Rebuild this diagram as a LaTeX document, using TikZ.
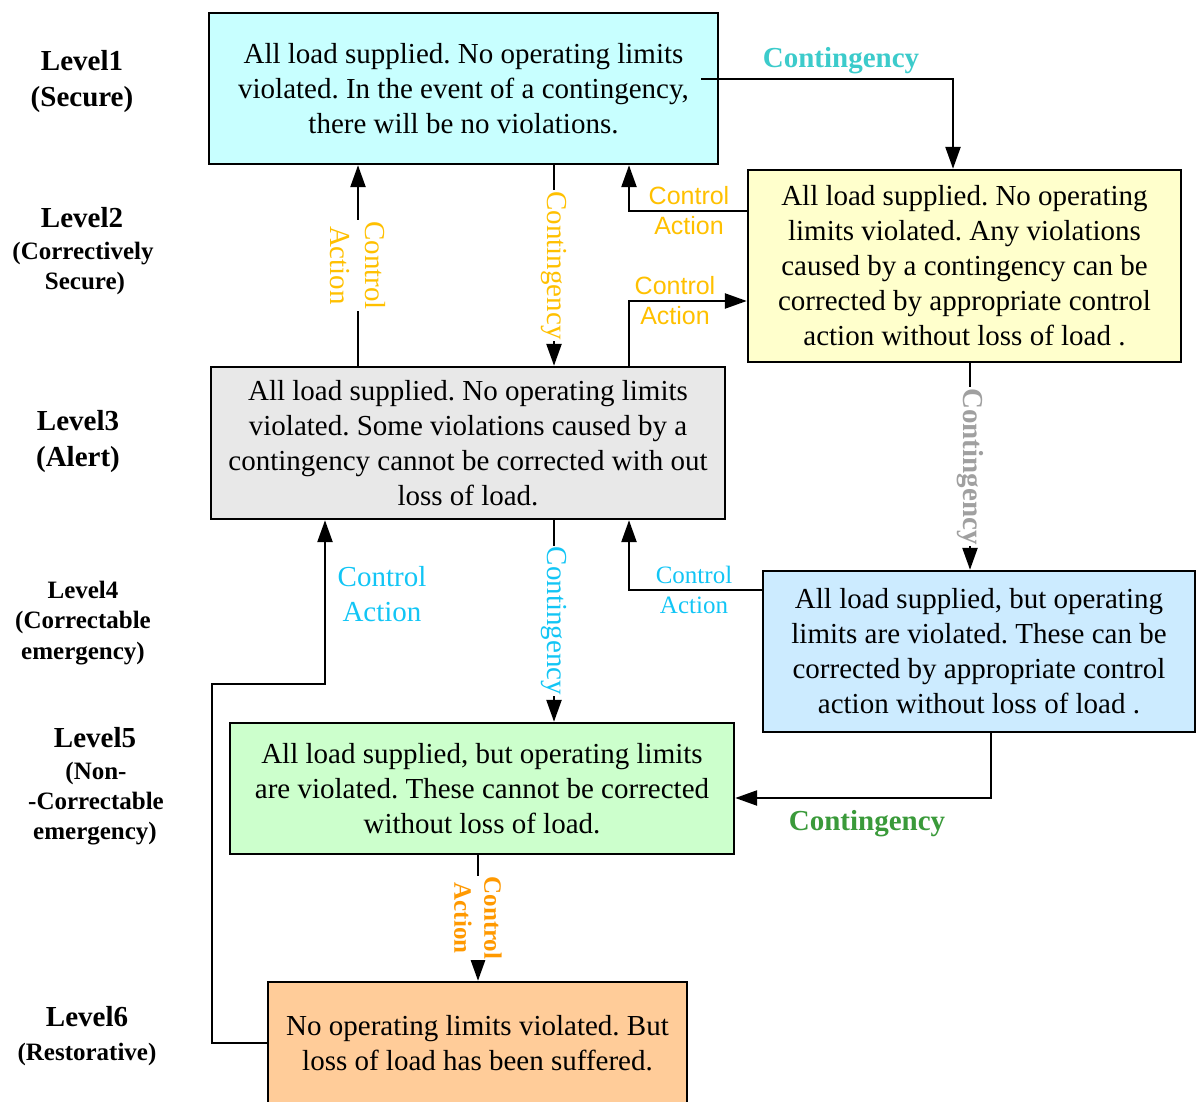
\documentclass[tikz,border=0pt]{standalone}
\usepackage{fontspec}
\setmainfont{Liberation Serif}
\setsansfont{Liberation Sans}
\usetikzlibrary{arrows.meta,calc}
\frenchspacing

\definecolor{fillA}{HTML}{C8FFFF}
\definecolor{fillB}{HTML}{FFFFCC}
\definecolor{fillC}{HTML}{E8E8E8}
\definecolor{fillD}{HTML}{CCEBFF}
\definecolor{fillE}{HTML}{CCFFCC}
\definecolor{fillF}{HTML}{FFCC99}
\definecolor{goldT}{HTML}{FFC000}
\definecolor{tealT}{HTML}{3CCBCB}
\definecolor{cyanT}{HTML}{12C5F5}
\definecolor{greyT}{HTML}{A0A0A0}
\definecolor{greenT}{HTML}{3A9A3A}
\definecolor{orangeT}{HTML}{FF9900}

\begin{document}
\begin{tikzpicture}[x=1pt,y=-1pt,
  statebox/.style={draw, line width=2.4pt, inner sep=0pt, align=center,
    font=\fontsize{29}{35}\selectfont},
  arr/.style={line width=2.4pt, -{Triangle[length=22pt,width=15pt]}},
  lvlbig/.style={anchor=base, font=\bfseries\fontsize{29}{35}\selectfont},
  lvlsmall/.style={anchor=base, font=\bfseries\fontsize{25}{30}\selectfont},
  vlabel/.style={rotate=-90, fill=white, inner xsep=1pt, inner ysep=0pt, align=center},
  serifbig/.style={font=\fontsize{29}{35}\selectfont},
  serifsmall/.style={font=\fontsize{25}{30}\selectfont},
  sanslabel/.style={font=\sffamily\fontsize{25}{30}\selectfont, align=center, text=goldT},
  boldbig/.style={font=\bfseries\fontsize{29}{35}\selectfont},
  boldsmall/.style={font=\bfseries\fontsize{25}{30}\selectfont}
]
\useasboundingbox (0,0) rectangle (1197,1102);

% ---- state boxes ----
\node[statebox, fill=fillA, minimum width=509pt, minimum height=151pt] (B1) at (463.5,88.5)
  {All load supplied. No operating limits\\violated. In the event of a contingency,\\there will be no violations.};
\node[statebox, fill=fillB, minimum width=433pt, minimum height=192pt] (B2) at (964.5,266)
  {All load supplied. No operating\\limits violated. Any violations\\caused by a contingency can be\\corrected by appropriate control\\action without loss of load .};
\node[statebox, fill=fillC, minimum width=514pt, minimum height=152pt] (B3) at (468,443)
  {All load supplied. No operating limits\\violated. Some violations caused by a\\contingency cannot be corrected with out\\loss of load.};
\node[statebox, fill=fillD, minimum width=432pt, minimum height=161pt] (B4) at (979,651.5)
  {All load supplied, but operating\\limits are violated. These can be\\corrected by appropriate control\\action without loss of load .};
\node[statebox, fill=fillE, minimum width=504pt, minimum height=131pt] (B5) at (482,788.5)
  {All load supplied, but operating limits\\are violated. These cannot be corrected\\without loss of load.};
\node[statebox, fill=fillF, minimum width=419pt, minimum height=123pt] (B6) at (477.5,1043.5)
  {No operating limits violated. But\\loss of load has been suffered.};

% ---- level captions ----
\node[lvlbig] (L1a) at (82,71) {Level1};
\node[lvlbig] (L1b) at (82,107) {(Secure)};
\node[lvlbig] (L2a) at (82,228) {Level2};
\node[lvlsmall] (L2b) at (83,260) {(Correctively};
\node[lvlsmall] (L2c) at (85,290) {Secure)};
\node[lvlbig] (L3a) at (78,430) {Level3};
\node[lvlbig] (L3b) at (78,466) {(Alert)};
\node[lvlsmall] (L4a) at (83,598) {Level4};
\node[lvlsmall] (L4b) at (83,628) {(Correctable};
\node[lvlsmall] (L4c) at (83,659) {emergency)};
\node[lvlbig] (L5a) at (95,747) {Level5};
\node[lvlsmall] (L5b) at (96,779) {(Non-};
\node[lvlsmall] (L5c) at (96,809) {-Correctable};
\node[lvlsmall] (L5d) at (95,839) {emergency)};
\node[lvlbig] (L6a) at (87,1026) {Level6};
\node[lvlsmall] (L6b) at (87,1060) {(Restorative)};

% ---- routing columns and rows ----
\coordinate (xA) at (358,0);
\coordinate (xB) at (554,0);
\coordinate (xC) at (629,0);
\coordinate (xD) at (970,0);
\coordinate (xE) at (991,0);
\coordinate (xF) at (478,0);
\coordinate (xG) at (325,0);
\coordinate (xH) at (212,0);
\coordinate (xI) at (953,0);
\coordinate (xJ) at (701,0);
\coordinate (yA) at (0,79);
\coordinate (yB) at (0,211);
\coordinate (yC) at (0,301);
\coordinate (yD) at (0,590);
\coordinate (yE) at (0,798);
\coordinate (yF) at (0,684);
\coordinate (yG) at (0,1043);

% ---- transitions ----
% Level1 -> Level2
\draw[arr] (xJ |- yA) -| (B2.north -| xI);
\node[boldbig, text=tealT] (t1) at (841,61) {Contingency};

% Level3 -> Level1
\draw[arr] (B3.north -| xA) -- node[vlabel, serifbig, text=goldT] (t2) {Control\\Action} (B1.south -| xA);

% Level1 -> Level3
\draw[arr] (B1.south -| xB) -- node[vlabel, serifbig, text=goldT] (t3) {Contingency} (B3.north -| xB);

% Level2 -> Level1
\draw[arr] (B2.west |- yB) -| (B1.south -| xC);
\node[sanslabel] (t4) at (689,211) {Control\\Action};

% Level3 -> Level2
\draw[arr] (B3.north -| xC) |- (B2.west |- yC);
\node[sanslabel] (t5) at (675,301) {Control\\Action};

% Level6 -> Level3
\draw[arr] (B6.west |- yG) -| (xH |- yF) -| (B3.south -| xG);
\node[serifbig, text=cyanT, align=center] (t6) at (382,594) {Control\\Action};

% Level3 -> Level5
\draw[arr] (B3.south -| xB) -- node[vlabel, serifbig, text=cyanT] (t7) {Contingency} (B5.north -| xB);

% Level4 -> Level3
\draw[arr] (B4.west |- yD) -| (B3.south -| xC);
\node[serifsmall, text=cyanT, align=center] (t8) at (694,590) {Control\\Action};

% Level2 -> Level4
\draw[arr] (B2.south -| xD) -- node[vlabel, boldbig, text=greyT] (t9) {Contingency} (B4.north -| xD);

% Level4 -> Level5
\draw[arr] (B4.south -| xE) |- (B5.east |- yE);
\node[boldbig, text=greenT] (t10) at (867,824) {Contingency};

% Level5 -> Level6
\draw[arr] (B5.south -| xF) -- node[vlabel, boldsmall, text=orangeT] (t11) {Control\\Action} (B6.north -| xF);

\end{tikzpicture}
\end{document}
